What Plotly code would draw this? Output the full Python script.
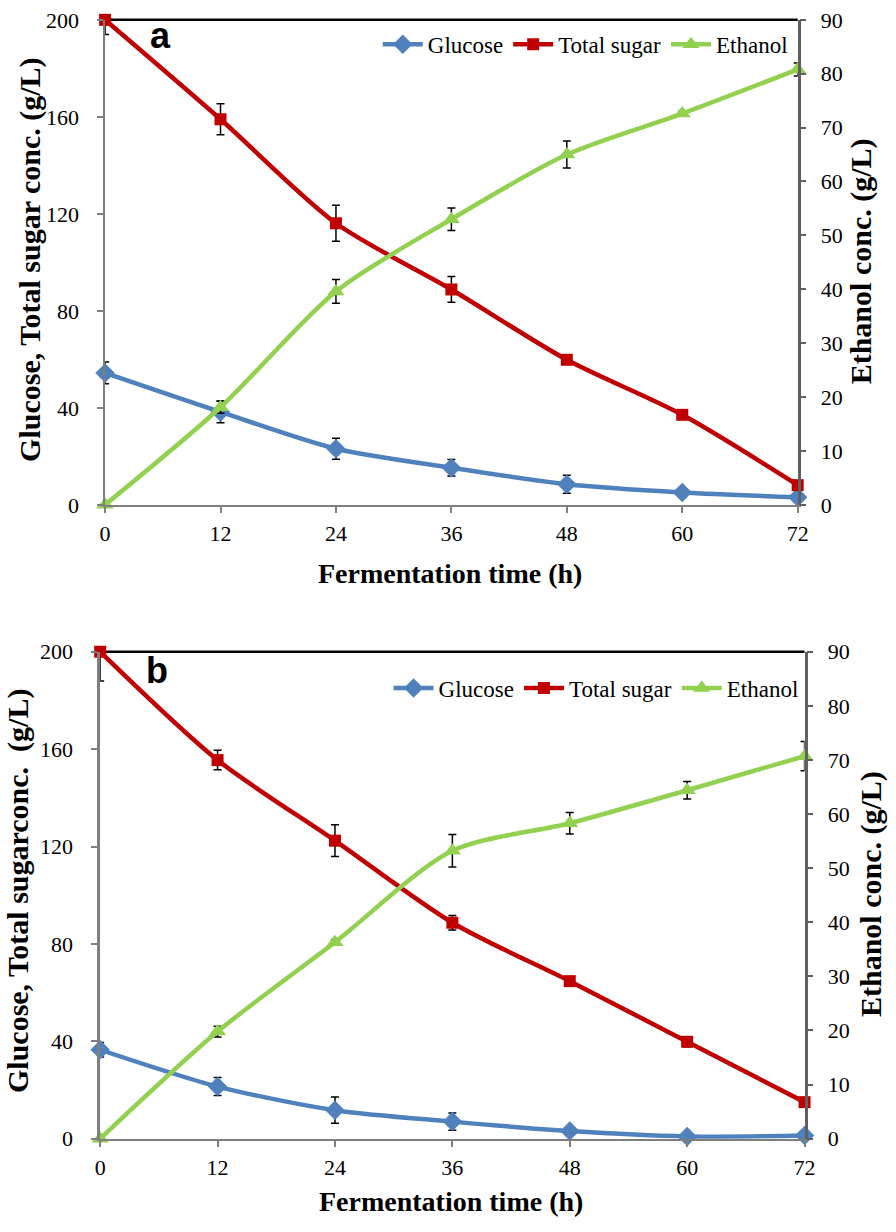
import plotly.graph_objects as go

# ---------------- data ----------------
time_h = [0, 12, 24, 36, 48, 60, 72]
x_ticks = [0, 12, 24, 36, 48, 60, 72]
left_ticks = [0, 40, 80, 120, 160, 200]
right_ticks = [0, 10, 20, 30, 40, 50, 60, 70, 80, 90]

# panel a
glucose_a = [54.4, 38.3, 23.1, 15.3, 8.5, 5.1, 3.1]
glucose_a_err = [4.5, 4.5, 4.3, 3.4, 3.7, 0.5, 0.5]
sugar_a = [200, 159.0, 116.1, 88.8, 59.8, 37.1, 8.1]
sugar_a_err_up = [0, 6.4, 7.4, 5.3, 1.0, 1.0, 0.5]
sugar_a_err_down = [6.0, 6.4, 7.4, 5.3, 1.0, 1.0, 0.5]
ethanol_a = [0, 18.1, 39.6, 53.0, 65.0, 72.6, 80.8]
ethanol_a_err = [0, 1.1, 2.2, 2.1, 2.5, 0.5, 1.2]

# panel b
glucose_b = [36.5, 21.4, 11.7, 7.0, 3.1, 0.9, 1.3]
glucose_b_err = [3.0, 3.7, 5.4, 3.5, 0.5, 0.3, 0.3]
sugar_b = [200, 155.5, 122.4, 88.7, 64.7, 39.8, 15.0]
sugar_b_err_up = [0, 4.0, 6.5, 3.0, 1.0, 2.0, 0.5]
sugar_b_err_down = [12.0, 4.0, 6.5, 3.0, 1.0, 2.0, 0.5]
ethanol_b = [0, 19.8, 36.3, 53.2, 58.3, 64.4, 70.7]
ethanol_b_err = [0, 1.0, 0.5, 3.0, 2.0, 1.6, 2.7]

series_names = ["Glucose", "Total sugar", "Ethanol"]
colors = ["#4F81BD", "#C00000", "#92D050"]
symbols = ["diamond", "square", "triangle-up"]
marker_sizes = [15, 12, 15]

SERIF = "Liberation Serif"
W, H = 896, 1232

fig = go.Figure()

def err(arr, arr_minus=None):
    d = dict(type="data", array=arr, visible=True, color="black", thickness=1.5, width=4)
    if arr_minus is not None:
        d["symmetric"] = False
        d["arrayminus"] = arr_minus
    return d

panels = [
    dict(xa="x", ya="y", ya2="y2", legend="legend",
         data=[(glucose_a, err(glucose_a_err)),
               (sugar_a, err(sugar_a_err_up, sugar_a_err_down)),
               (ethanol_a, err(ethanol_a_err))]),
    dict(xa="x2", ya="y3", ya2="y4", legend="legend2",
         data=[(glucose_b, err(glucose_b_err)),
               (sugar_b, err(sugar_b_err_up, sugar_b_err_down)),
               (ethanol_b, err(ethanol_b_err))]),
]

for p in panels:
    for i, (vals, e) in enumerate(p["data"]):
        fig.add_trace(go.Scatter(
            x=time_h, y=vals, name=series_names[i], mode="lines+markers",
            line=dict(color=colors[i], width=4.5, shape="spline", smoothing=0.8),
            marker=dict(symbol=symbols[i], size=marker_sizes[i], color=colors[i], line=dict(width=0)),
            error_y=e, cliponaxis=False, hoverinfo="skip",
            xaxis=p["xa"], yaxis=(p["ya2"] if i == 2 else p["ya"]),
            legend=p["legend"],
        ))

tickfont = dict(family=SERIF, size=22, color="black")

def xaxis_cfg(domain, anchor):
    return dict(domain=domain, anchor=anchor, range=[0, 72], tickvals=x_ticks,
                showgrid=False, zeroline=False, showline=True, linecolor="#7f7f7f", linewidth=2,
                ticks="outside", ticklen=6, tickwidth=1.5, tickcolor="#7f7f7f",
                tickfont=tickfont, ticklabelstandoff=2)

def yleft_cfg(domain, anchor, lw):
    return dict(domain=domain, anchor=anchor, range=[0, 200], tickvals=left_ticks,
                showgrid=False, zeroline=False, showline=True, linecolor="#7f7f7f", linewidth=lw,
                ticks="outside", ticklen=6, tickwidth=1.5, tickcolor="#7f7f7f",
                tickfont=tickfont, ticklabelstandoff=14)

def yright_cfg(overlay, anchor):
    return dict(overlaying=overlay, anchor=anchor, side="right", range=[0, 90], tickvals=right_ticks,
                showgrid=False, zeroline=False, showline=True, linecolor="#606060", linewidth=2.5,
                ticks="outside", ticklen=6, tickwidth=1.5, tickcolor="#606060",
                tickfont=tickfont, ticklabelstandoff=10)

xa_dom = [101 / W, 807 / W]
xb_dom = [96 / W, 814 / W]
ya_dom = [1 - 503 / H, 1 - 8 / H]
yb_dom = [1 - 1150 / H, 1 - 653 / H]

legend_common = dict(orientation="h", bgcolor="rgba(0,0,0,0)", font=dict(family=SERIF, size=23, color="black"),
                     itemwidth=40, xanchor="right", yanchor="middle", traceorder="normal", itemclick=False)

fig.update_layout(
    width=W, height=H, margin=dict(l=0, r=0, t=0, b=0),
    plot_bgcolor="white", paper_bgcolor="white", hovermode=False,
    xaxis=xaxis_cfg(xa_dom, "y"),
    yaxis=yleft_cfg(ya_dom, "x", 1.5),
    yaxis2=yright_cfg("y", "x"),
    xaxis2=xaxis_cfg(xb_dom, "y3"),
    yaxis3=yleft_cfg(yb_dom, "x2", 2.5),
    yaxis4=yright_cfg("y3", "x2"),
    legend=dict(x=802 / W, y=1 - 33 / H, **legend_common),
    legend2=dict(x=813 / W, y=1 - 690 / H, **legend_common),
    showlegend=True,
)

# top borders
for xr, yr in [("x domain", "y domain"), ("x2 domain", "y3 domain")]:
    fig.add_shape(type="line", xref=xr, yref=yr, x0=0, x1=1, y0=1, y1=1,
                  line=dict(color="black", width=2.5), layer="below")

bold_title = dict(family=SERIF, size=30, color="black", weight="bold")
xtitle_font = dict(family=SERIF, size=28, color="black", weight="bold")
panel_font = dict(family="Liberation Sans", size=36, color="black", weight="bold")

annos = [
    dict(text="Glucose, Total sugar conc. (g/L)", x=25 / W, y=1 - 253.5 / H, textangle=-90, font=bold_title),
    dict(text="Ethanol conc. (g/L)", x=871 / W, y=1 - 254 / H, textangle=-90, font=bold_title),
    dict(text="Fermentation time (h)", x=452.5 / W, y=1 - 573 / H, textangle=0, font=xtitle_font),
    dict(text="Glucose, Total sugarconc.\u00a0\u00a0(g/L)", x=13 / W, y=1 - 897.5 / H, textangle=-90, font=bold_title),
    dict(text="Ethanol conc. (g/L)", x=881 / W, y=1 - 900 / H, textangle=-90, font=bold_title),
    dict(text="Fermentation time (h)", x=453.5 / W, y=1 - 1214 / H, textangle=0, font=xtitle_font),
    dict(text="a", x=157 / W, y=1 - 24 / H, textangle=0, font=panel_font),
    dict(text="b", x=154 / W, y=1 - 672 / H, textangle=0, font=panel_font),
]
for a in annos:
    fig.add_annotation(xref="paper", yref="paper", showarrow=False, xanchor="center", yanchor="middle", **a)

fig.write_html("out.html", config={"displayModeBar": False},
               post_script="document.body.style.margin='0px';")
